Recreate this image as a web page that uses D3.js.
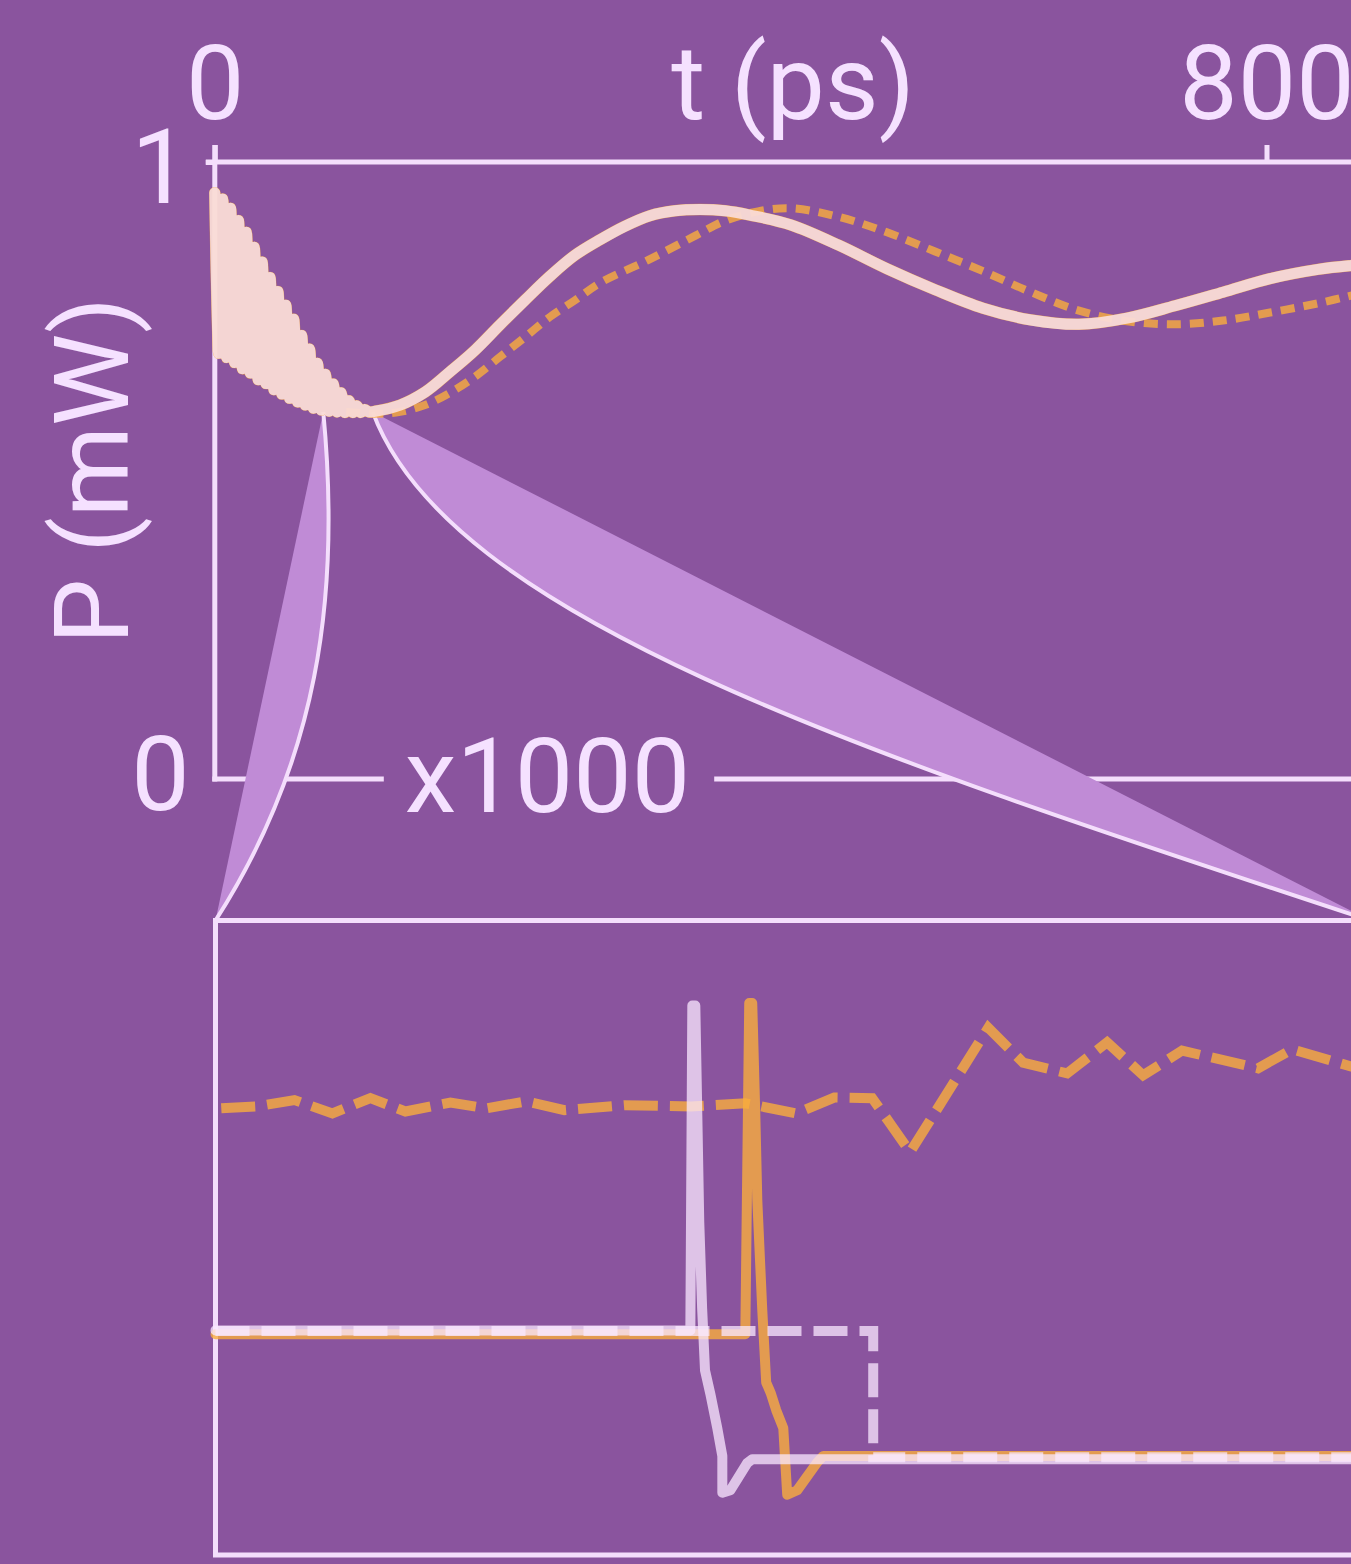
<!DOCTYPE html>
<html>
<head>
<meta charset="utf-8">
<script src="https://cdn.jsdelivr.net/npm/d3@7"></script>
<style>
  html, body { margin: 0; padding: 0; background: #8A549E; }
  svg { display: block; }
</style>
</head>
<body>
<svg id="chart" width="1351" height="1564"></svg>
<script>
// ---------------- DATA ----------------
const xTickValues = [0, 800];
const yTickValues = [0, 1];
const xAxisLabel = "t (ps)";
const yAxisLabel = "P (mW)";
const zoomLabel = "x1000";

// zoomed window in the top panel: [t start, t end] (ps) and power level (mW)
const zoomWindowT = [82.5, 120.1];
const zoomWindowP = 0.595;

// top panel, solid trace [t (ps), P (mW)]
const topSolid = [
  [0,0.95],[3,0.69],[6,0.94],[9,0.683],[12,0.925],[15,0.675],[18,0.905],[21,0.665],
  [24,0.886],[27,0.658],[30,0.862],[33,0.647],[36,0.838],[39,0.641],[42,0.813],[45,0.631],
  [48,0.79],[51,0.624],[54,0.768],[57,0.617],[60,0.745],[63,0.611],[66,0.719],[69,0.606],
  [72,0.697],[75,0.601],[78,0.674],[81,0.598],[84,0.656],[87,0.596],[90,0.64],[93,0.595],
  [96,0.626],[99,0.594],[102,0.613],[105,0.594],[108,0.605],[111,0.594],[114,0.599],[117,0.595],
  [121.9,0.596],[140.9,0.606],[159.9,0.627],[178.9,0.660],[197.9,0.695],[216.9,0.736],
  [235.9,0.776],[255.0,0.815],[274.0,0.849],[293.0,0.874],[312.0,0.896],[331.0,0.913],
  [350.0,0.921],[369.1,0.923],[388.1,0.921],[407.1,0.914],[438.3,0.898],[474.8,0.865],
  [511.3,0.827],[547.9,0.793],[584.4,0.763],[620.9,0.744],[657.4,0.737],[693.9,0.747],
  [730.4,0.767],[766.9,0.789],[802.7,0.811],[839.2,0.826],[863.5,0.832],[901.5,0.838]
];

// top panel, dashed trace [t (ps), P (mW)]
const topDashed = [
  [99.9,0.595],[125.7,0.592],[140.9,0.595],[159.9,0.606],[178.9,0.626],[197.9,0.652],
  [216.9,0.684],[235.9,0.716],[255.0,0.749],[274.0,0.776],[293.0,0.804],[329.5,0.841],
  [366.0,0.881],[387.3,0.904],[413.2,0.920],[438.3,0.925],[474.8,0.911],[511.3,0.886],
  [547.9,0.855],[584.4,0.823],[620.9,0.789],[657.4,0.759],[693.9,0.742],[730.4,0.737],
  [766.9,0.743],[802.7,0.756],[839.2,0.771],[863.5,0.783],[901.5,0.802]
];

// bottom (zoomed) panel, relative time 0..100 of window, relative level 0..1
const botOrangeDashed = [
  [0.5,0.704],[3.55,0.707],[6.84,0.717],[10.13,0.696],[13.42,0.720],[16.45,0.699],
  [20.35,0.713],[23.46,0.704],[26.93,0.715],[30.22,0.701],[35.41,0.709],[41.21,0.707],
  [45.89,0.712],[50.30,0.696],[53.59,0.721],[56.88,0.720],[58.44,0.680],[60.17,0.635],
  [66.93,0.831],[69.96,0.776],[73.77,0.759],[77.23,0.808],[80.35,0.756],[83.72,0.795],
  [90.30,0.767],[93.25,0.797],[98.35,0.770],[100,0.772]
];
const botOrangeSolid = [
  [0,0.348],[45.89,0.348],[46.23,0.870],[46.49,0.870],[46.75,0.700],[46.93,0.559],
  [47.36,0.386],[47.70,0.272],[48.10,0.255],[48.57,0.228],[49.18,0.200],[49.52,0.095],
  [50.39,0.102],[52.12,0.146],[52.64,0.156],[100,0.156]
];
const botLavenderDashed = [
  [0,0.353],[56.97,0.353],[56.97,0.154],[100,0.154]
];
const botLavenderSolid = [
  [0,0.354],[41.13,0.354],[41.30,0.866],[41.56,0.866],[41.75,0.677],[41.90,0.526],
  [42.15,0.389],[42.40,0.291],[42.86,0.254],[43.46,0.200],[43.90,0.156],[43.90,0.098],
  [44.59,0.102],[46.06,0.145],[46.49,0.151],[100,0.151]
];

// ---------------- STYLE ----------------
const BG = "#8A549E";
const INK = "#F5E1FF";
const AXIS = "#F4DEFC";
const ORANGE = "rgba(249,173,60,0.8)";
const LAVENDER = "rgba(250,232,255,0.75)";
const WEDGE = "#C08BD6";
const FONT = "Roboto, 'Noto Sans', sans-serif";
const FS = 104;

const svg = d3.select("#chart");
svg.append("rect").attr("width", 1351).attr("height", 1564).attr("fill", BG);

// ---------------- SCALES ----------------
const topX = d3.scaleLinear().domain([0, 800]).range([214.8, 1266.5]);
const topY = d3.scaleLinear().domain([0, 1]).range([779, 162]);
const topTEnd = 895;
const botX = d3.scaleLinear().domain([0, 100]).range([215.5, 1370]);
const botY = d3.scaleLinear().domain([0, 1]).range([1555, 920.5]);

// ---------------- ZOOM WEDGES ----------------
const A1 = [topX(zoomWindowT[0]), topY(zoomWindowP)];
const A2 = [topX(zoomWindowT[1]), topY(zoomWindowP)];
const B1 = [botX(0), botY(1)];
const B2 = [botX(100), botY(1)];
const c1a = [A1[0] + 18, A1[1] + 188], c1b = [B1[0] + 101, B1[1] - 158];
const c2a = [A2[0] + 77, A2[1] + 208], c2b = [B2[0] - 500, B2[1] - 165];

function wedgePath(A, B, ca, cb) {
  const p = d3.path();
  p.moveTo(A[0], A[1]);
  p.bezierCurveTo(ca[0], ca[1], cb[0], cb[1], B[0], B[1]);
  p.lineTo(A[0], A[1]);
  p.closePath();
  return p.toString();
}
function curvePath(A, B, ca, cb) {
  const p = d3.path();
  p.moveTo(A[0], A[1]);
  p.bezierCurveTo(ca[0], ca[1], cb[0], cb[1], B[0], B[1]);
  return p.toString();
}

// ---------------- TOP AXES ----------------
const axG = svg.append("g");
axG.append("line")
  .attr("x1", topX(0) - 9).attr("x2", topX(topTEnd))
  .attr("y1", topY(1)).attr("y2", topY(1))
  .attr("stroke", AXIS).attr("stroke-width", 5);
axG.append("line")
  .attr("x1", topX(0)).attr("x2", topX(0))
  .attr("y1", topY(1) - 17).attr("y2", topY(0) + 2.5)
  .attr("stroke", AXIS).attr("stroke-width", 5);

const xAxis = d3.axisTop(topX).tickValues(xTickValues).tickSize(17).tickPadding(26)
  .tickFormat(d3.format("d"));
const gx = svg.append("g").attr("transform", `translate(0,${topY(1)})`).call(xAxis);
gx.select(".domain").remove();
gx.selectAll(".tick line").attr("stroke", AXIS).attr("stroke-width", 5);
gx.selectAll(".tick text").attr("fill", INK).style("font-family", FONT).style("font-size", FS + "px");

const yAxis = d3.axisLeft(topY).tickValues(yTickValues).tickSize(9).tickPadding(16)
  .tickFormat(d3.format("d"));
const gy = svg.append("g").attr("transform", `translate(${topX(0)},0)`).call(yAxis);
gy.select(".domain").remove();
gy.selectAll(".tick line").attr("stroke", AXIS).attr("stroke-width", 5)
  .attr("display", d => d === 0 ? "none" : null);
gy.selectAll(".tick text").attr("fill", INK).style("font-family", FONT).style("font-size", FS + "px")
  .attr("dy", d => d === 1 ? "0.385em" : "0.29em");

svg.append("text").attr("x", 793).attr("y", topY(1) - 43)
  .attr("text-anchor", "middle").attr("fill", INK)
  .style("font-family", FONT).style("font-size", FS + "px").text(xAxisLabel);
svg.append("text").attr("transform", `translate(128,${(topY(0) + topY(1)) / 2})rotate(-90)`)
  .attr("text-anchor", "middle").attr("fill", INK)
  .style("font-family", FONT).style("font-size", FS + "px").text(yAxisLabel);

const zl = svg.append("text").attr("x", 547.5).attr("y", topY(0)).attr("dy", "0.32em")
  .attr("text-anchor", "middle").attr("fill", INK)
  .style("font-family", FONT).style("font-size", FS + "px").text(zoomLabel);
const bb = zl.node().getBBox();
axG.append("line").attr("x1", topX(0) - 2.5).attr("x2", bb.x - 21)
  .attr("y1", topY(0)).attr("y2", topY(0)).attr("stroke", AXIS).attr("stroke-width", 5);
axG.append("line").attr("x1", bb.x + bb.width + 24).attr("x2", topX(topTEnd))
  .attr("y1", topY(0)).attr("y2", topY(0)).attr("stroke", AXIS).attr("stroke-width", 5);

// wedges (drawn over the axis lines)
const wedges = svg.append("g");
wedges.append("path").attr("d", wedgePath(A1, B1, c1a, c1b)).attr("fill", WEDGE);
wedges.append("path").attr("d", wedgePath(A2, B2, c2a, c2b)).attr("fill", WEDGE);
wedges.append("path").attr("d", curvePath(A1, B1, c1a, c1b))
  .attr("fill", "none").attr("stroke", AXIS).attr("stroke-width", 4);
wedges.append("path").attr("d", curvePath(A2, B2, c2a, c2b))
  .attr("fill", "none").attr("stroke", AXIS).attr("stroke-width", 4);

// ---------------- TOP TRACES ----------------
const topLine = d3.line().x(d => topX(d[0])).y(d => topY(d[1])).curve(d3.curveCatmullRom.alpha(0.5));
const topG = svg.append("g");
topG.append("path").datum(topDashed).attr("d", topLine)
  .attr("fill", "none").attr("stroke", ORANGE).attr("stroke-width", 8)
  .attr("stroke-dasharray", "14,9");
topG.append("path").datum(topSolid).attr("d", topLine)
  .attr("fill", "none").attr("stroke", ORANGE).attr("stroke-width", 11.5)
  .attr("stroke-linejoin", "round").attr("stroke-linecap", "round");
topG.append("path").datum(topSolid).attr("d", topLine)
  .attr("fill", "none").attr("stroke", LAVENDER).attr("stroke-width", 11)
  .attr("stroke-linejoin", "round").attr("stroke-linecap", "round");

// ---------------- BOTTOM PANEL ----------------
svg.append("rect")
  .attr("x", botX(0)).attr("y", botY(1))
  .attr("width", botX(100) - botX(0)).attr("height", botY(0) - botY(1))
  .attr("fill", "none").attr("stroke", AXIS).attr("stroke-width", 5);

const botLine = d3.line().x(d => botX(d[0])).y(d => botY(d[1]));
const botG = svg.append("g");
botG.append("path").datum(botOrangeDashed).attr("d", botLine)
  .attr("fill", "none").attr("stroke", ORANGE).attr("stroke-width", 10)
  .attr("stroke-dasharray", "34,12");
botG.append("path").datum(botOrangeSolid).attr("d", botLine)
  .attr("fill", "none").attr("stroke", ORANGE).attr("stroke-width", 10)
  .attr("stroke-linejoin", "round").attr("stroke-linecap", "round");
botG.append("path").datum(botLavenderDashed).attr("d", botLine)
  .attr("fill", "none").attr("stroke", LAVENDER).attr("stroke-width", 10)
  .attr("stroke-dasharray", "34,12");
botG.append("path").datum(botLavenderSolid).attr("d", botLine)
  .attr("fill", "none").attr("stroke", LAVENDER).attr("stroke-width", 10)
  .attr("stroke-linejoin", "round").attr("stroke-linecap", "round");
</script>
</body>
</html>
